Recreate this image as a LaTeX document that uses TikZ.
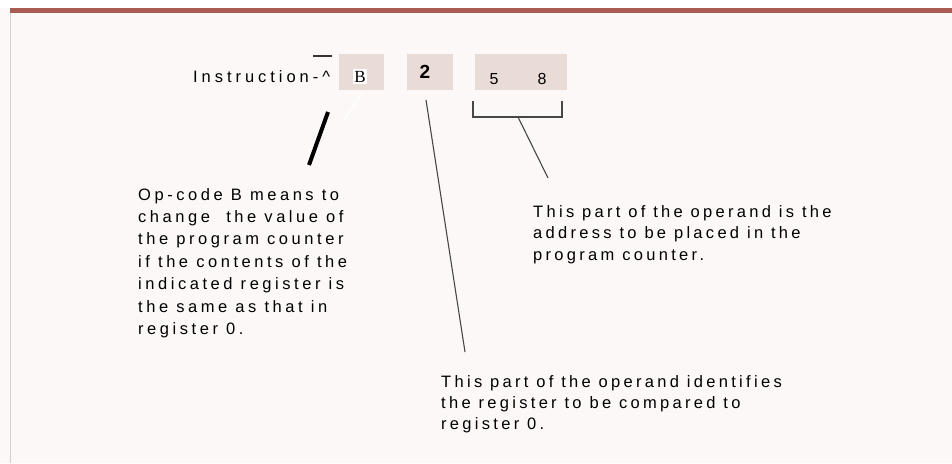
\documentclass[tikz,border=0pt]{standalone}
\usepackage{fontspec}
\setmainfont{Liberation Sans}
\newfontfamily\notefont[LetterSpace=20]{Liberation Sans}
\newfontfamily\widenotefont[LetterSpace=21.5]{Liberation Sans}
\newfontfamily\instrfont[LetterSpace=24]{Liberation Sans}
\newfontfamily\opfont{Liberation Serif}
\usepackage{xcolor}
\usepackage{tikz}
\usetikzlibrary{positioning}
\definecolor{pagebg}{RGB}{252,248,248}
\definecolor{bandred}{RGB}{168,92,84}
\definecolor{edgegrey}{RGB}{214,206,206}
\definecolor{regfill}{RGB}{233,219,214}
\tikzset{
  regbox/.style    = {rectangle, fill=regfill, inner sep=0pt, minimum height=36pt},
  regdigit/.style  = {inner sep=0pt, font=\fontsize{16}{16}\selectfont},
  notebox/.style   = {inner sep=0pt, anchor=north west, align=left,
                      font=\notefont\fontsize{16.5}{21.5}\selectfont},
  pointer/.style   = {draw=black!72, line width=1.1pt},
}
\begin{document}
\begin{tikzpicture}[x=1pt,y=-1pt]
  \useasboundingbox (0,0) rectangle (952,463);
  \fill[pagebg] (0,0) rectangle (952,463);
  \fill[white] (0,0) rectangle (952,8);
  \fill[bandred] (10,8) rectangle (952,13);
  \draw[edgegrey, line width=1pt] (10,13) -- (10,463);

  % the instruction
  \node[font=\instrfont\fontsize{16.5}{16.5}\selectfont, inner sep=0pt, anchor=base west]
        (instr) at (193,82) {Instruction-\textasciicircum};
  \draw[black!80, line width=1.2pt] (313,56) -- (332,56);
  \node[regbox, minimum width=45pt] (opbox)   at (361.5,72) {};
  \node[regbox, minimum width=46pt] (regbox2) at (430,72)   {};
  \node[regbox, minimum width=92pt] (addrbox) at (521,72)   {};
  \node[fill=white, inner sep=1.8pt, font=\opfont\fontsize{17}{17}\selectfont] (opcode) at (360,76.5) {B};
  \node[inner sep=0pt, font=\bfseries\fontsize{19}{19}\selectfont] (regnum) at (425,71.5) {2};
  \node[regdigit] (addrhi) at (494,79.5) {5};
  \node[regdigit] (addrlo) at (542,79)   {8};

  % pointers
  \coordinate (optop) at (328,112);
  \coordinate (opend) at (309,165);
  \draw[black, line width=4pt] (optop) -- (opend);
  \draw[white, line width=1pt] (362,93) -- (343,122);
  \coordinate (regtop) at (426,100);
  \coordinate (regend) at (465,352);
  \draw[pointer] (regtop) -- (regend);
  \coordinate (brkL) at (473,101);
  \coordinate (brkR) at (562,101);
  \coordinate (brkmid) at (518,117);
  \coordinate (addrend) at (548,178);
  \draw[pointer] (brkL) |- (brkR |- brkmid) -- (brkR);
  \draw[pointer] (brkmid) -- (addrend);

  % notes
  \node[notebox, font=\widenotefont\fontsize{16.5}{22.4}\selectfont] (opnote) at (138,188)
        {Op-code B means to\\change \ the value of\\the program counter\\if the contents of the\\indicated register is\\the same as that in\\register 0.};
  \node[notebox] (addrnote) at (533,205)
        {This part of the operand is the\\address to be placed in the\\program counter.};
  \node[notebox, font=\notefont\fontsize{16.5}{21}\selectfont] (regnote) at (441,375)
        {This part of the operand identifies\\the register to be compared to\\register 0.};
\end{tikzpicture}
\end{document}
